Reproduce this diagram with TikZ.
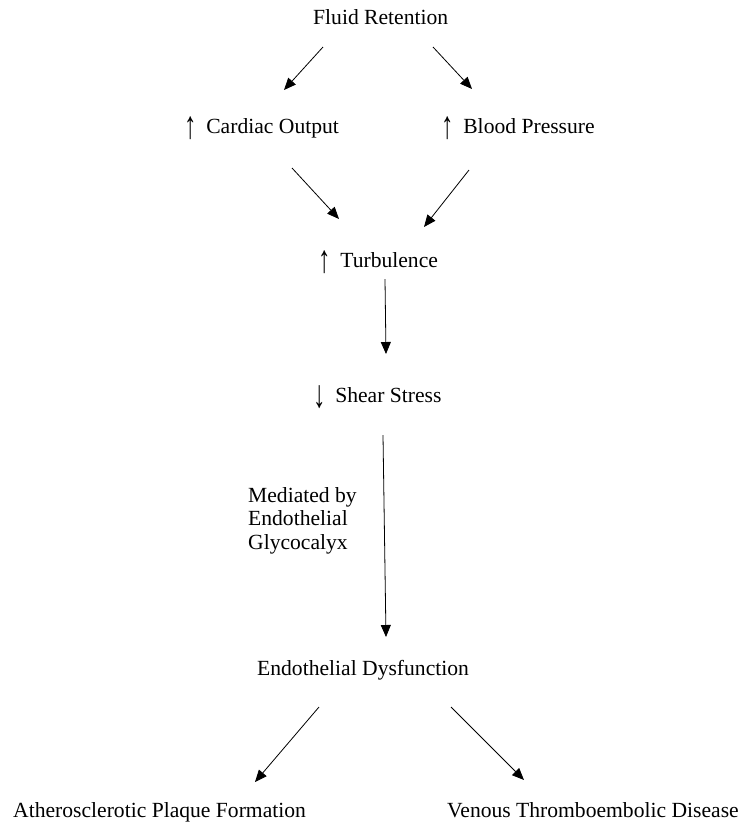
\documentclass[tikz,border=0pt]{standalone}
\usepackage{fontspec}
\setmainfont{Liberation Serif}
\newfontfamily\arrowfont{Liberation Serif}
\usetikzlibrary{arrows.meta}
\tikzset{
  lbl/.style={anchor=base west, inner sep=0pt, font=\fontsize{21.6}{23.5}\selectfont},
  conn/.style={line width=0.8pt, -{Triangle[length=12pt,width=10pt]}},
}
\newcommand{\upar}{{\arrowfont\raisebox{-5pt}{\scalebox{1.15}[1.8]{↑}}}\hspace{0.45em}}
\newcommand{\dnar}{{\arrowfont\raisebox{-5pt}{\scalebox{1.15}[1.8]{↓}}}\hspace{0.45em}}
\begin{document}
\begin{tikzpicture}[x=1pt,y=-1pt]
\useasboundingbox (0,0) rectangle (741,823);
% text nodes
\node[lbl] (fluid) at (313,24) {Fluid Retention};
\node[lbl] (cardiac) at (184,133) {\upar Cardiac Output};
\node[lbl] (bp) at (441,133) {\upar Blood Pressure};
\node[lbl] (turb) at (318,267) {\upar Turbulence};
\node[lbl] (shear) at (313,402) {\dnar Shear Stress};
\node[lbl, align=left, anchor=north west] (med) at (248,487) {Mediated by\\Endothelial\\Glycocalyx};
\node[lbl] (endo) at (257,675) {Endothelial Dysfunction};
\node[lbl] (ather) at (13,817) {Atherosclerotic Plaque Formation};
\node[lbl] (venous) at (447,817) {Venous Thromboembolic Disease};
% connector end points
\coordinate (a1s) at (323,47);  \coordinate (a1e) at (284,90);
\coordinate (a2s) at (433,47);  \coordinate (a2e) at (472,89);
\coordinate (a3s) at (292,168); \coordinate (a3e) at (339,219);
\coordinate (a4s) at (469,170); \coordinate (a4e) at (424,227);
\coordinate (a5s) at (385,279); \coordinate (a5e) at (386,354);
\coordinate (a6s) at (383,435); \coordinate (a6e) at (386,637);
\coordinate (a7s) at (319,707); \coordinate (a7e) at (255,782);
\coordinate (a8s) at (451,707); \coordinate (a8e) at (524,780);
\draw[conn] (a1s) -- (a1e);
\draw[conn] (a2s) -- (a2e);
\draw[conn] (a3s) -- (a3e);
\draw[conn] (a4s) -- (a4e);
\draw[conn] (a5s) -- (a5e);
\draw[conn] (a6s) -- (a6e);
\draw[conn] (a7s) -- (a7e);
\draw[conn] (a8s) -- (a8e);
\end{tikzpicture}
\end{document}
